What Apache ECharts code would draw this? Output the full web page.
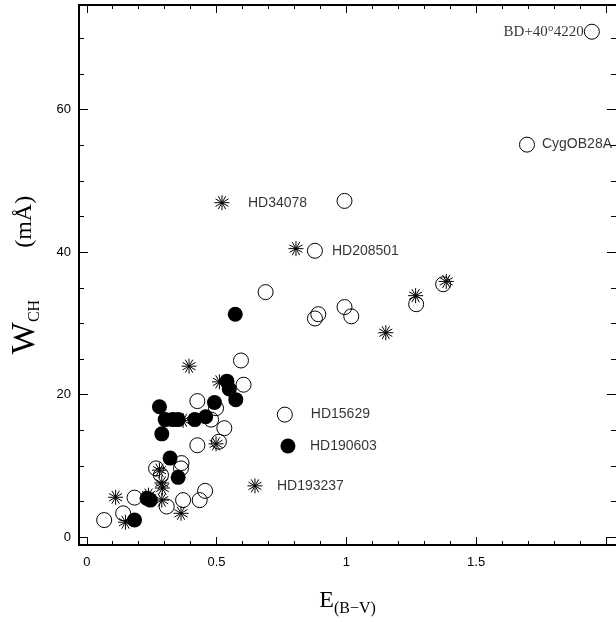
<!DOCTYPE html>
<html>
<head>
<meta charset="utf-8">
<script src="https://cdn.jsdelivr.net/npm/echarts@6/dist/echarts.min.js"></script>
<style>html,body{margin:0;padding:0;background:#fff;}#c{width:616px;height:622px;}</style>
</head>
<body>
<div id="c"></div>
<script>
// ---- data ----
// open circles
const openX = [1.946, 1.696, 0.993, 0.879, 0.689, 0.879, 0.892, 0.993, 1.019, 1.269, 1.373, 0.763,
  0.594, 0.604, 0.426, 0.498, 0.479, 0.530, 0.426, 0.509, 0.365, 0.363, 0.267, 0.286,
  0.184, 0.308, 0.371, 0.435, 0.456, 0.067, 0.140];
const openY = [70.95, 55.1, 47.2, 40.2, 34.4, 30.7, 31.3, 32.3, 31.0, 32.7, 35.5, 17.2,
  24.8, 21.4, 19.1, 18.1, 16.5, 15.3, 12.9, 13.4, 10.4, 9.65, 9.65, 8.7,
  5.55, 4.3, 5.2, 5.2, 6.5, 2.4, 3.35];
// filled circles
const filledX = [0.775, 0.572, 0.540, 0.549, 0.574, 0.280, 0.492, 0.302, 0.331, 0.352, 0.416, 0.458,
  0.289, 0.321, 0.352, 0.232, 0.245, 0.184];
const filledY = [12.8, 31.3, 21.9, 20.8, 19.3, 18.3, 18.9, 16.5, 16.5, 16.5, 16.5, 16.9,
  14.5, 11.1, 8.4, 5.45, 5.2, 2.4];
// asterisks
const starX = [0.521, 0.806, 1.267, 1.152, 1.385, 0.648, 0.394, 0.511, 0.371, 0.498, 0.280,
  0.289, 0.291, 0.238, 0.289, 0.111, 0.363, 0.149];
const starY = [46.95, 40.5, 33.9, 28.7, 35.9, 7.2, 24.0, 21.8, 16.4, 13.1, 9.4,
  7.6, 6.9, 5.9, 5.2, 5.6, 3.35, 2.1];
// labelled stars
const labelNames = ['BD+40°4220', 'CygOB28A', 'HD34078', 'HD208501', 'HD15629', 'HD190603', 'HD193237'];
const labelX = [1.946, 1.696, 0.521, 0.879, 0.763, 0.775, 0.648];
const labelY = [70.95, 55.1, 46.95, 40.2, 17.2, 12.8, 7.2];
// axis ticks
const xMajorTicks = [0, 0.5, 1, 1.5, 2];
const xTickLabels = [0, 0.5, 1, 1.5];
const yMajorTicks = [0, 20, 40, 60];
const yTickLabels = [0, 20, 40, 60];

// ---- styling / layout ----
const xMinorTicks = []; for (let i = 0; i <= 20; i++) xMinorTicks.push(+(i * 0.1).toFixed(2));
const yMinorTicks = []; for (let i = 0; i <= 14; i++) yMinorTicks.push(i * 5);
const XMIN = -0.03, XMAX = 2.039, YMIN = -1.1, YMAX = 74.7;

function zip(a, b) { return a.map((v, i) => [v, b[i]]); }

let ast = '';
for (let k = 0; k < 6; k++) {
  const t = k * Math.PI / 6, c = Math.cos(t) * 10, s = Math.sin(t) * 10;
  ast += 'M' + c.toFixed(3) + ' ' + s.toFixed(3) + 'L' + (-c).toFixed(3) + ' ' + (-s).toFixed(3);
}

const labelStyle = {
  'BD+40°4220': { position: 'left', distance: 8, fontFamily: 'Liberation Serif', fontSize: 15 },
  'CygOB28A': { position: 'right', distance: 15 },
  'HD34078': { position: 'right', distance: 26 },
  'HD208501': { position: 'right', distance: 17 },
  'HD15629': { position: 'right', distance: 26 },
  'HD190603': { position: 'right', distance: 22 },
  'HD193237': { position: 'right', distance: 22 }
};

const axisLineStyle = { color: '#000', width: 2 };
function xAx(pos, ticks, len, withLabels) {
  const a = {
    type: 'value', position: pos, min: XMIN, max: XMAX, gridIndex: 0,
    axisLine: { show: true, lineStyle: axisLineStyle, onZero: false },
    axisTick: { show: true, inside: true, length: len, customValues: ticks, lineStyle: { color: '#000', width: 1 } },
    axisLabel: withLabels ? { show: true, customValues: xTickLabels, color: '#000', fontSize: 13,
      fontFamily: 'Liberation Sans', margin: 11, formatter: v => String(v) } : { show: false },
    splitLine: { show: false }
  };
  if (withLabels) {
    a.name = '{a|E}{b|(B\u2212V)}';
    a.nameLocation = 'middle';
    a.nameGap = 40;
    a.nameTextStyle = { color: '#000', rich: {
      a: { fontFamily: 'Liberation Serif', fontSize: 24, color: '#000' },
      b: { fontFamily: 'Liberation Serif', fontSize: 16, color: '#000', padding: [16, 0, 0, 0] }
    } };
  }
  return a;
}
function yAx(pos, ticks, len, withLabels) {
  const a = {
    type: 'value', position: pos, min: YMIN, max: YMAX, gridIndex: 0,
    axisLine: { show: pos === 'left', lineStyle: axisLineStyle, onZero: false },
    axisTick: { show: true, inside: true, length: len, customValues: ticks, lineStyle: { color: '#000', width: 1 } },
    axisLabel: withLabels ? { show: true, customValues: yTickLabels, color: '#000', fontSize: 13,
      fontFamily: 'Liberation Sans', margin: 8, formatter: v => String(v) } : { show: false },
    splitLine: { show: false }
  };
  if (withLabels) {
    a.name = '{a|W}{b|CH}{c|(m\u00C5)}';
    a.nameLocation = 'middle';
    a.nameGap = 36;
    a.nameRotate = 90;
    a.nameTextStyle = { color: '#000', rich: {
      a: { fontFamily: 'Liberation Serif', fontSize: 34, color: '#000' },
      b: { fontFamily: 'Liberation Serif', fontSize: 16, color: '#000', padding: [20, 0, 0, 0] },
      c: { fontFamily: 'Liberation Serif', fontSize: 24, color: '#000', padding: [0, 0, 0, 52] }
    } };
  }
  return a;
}

const option = {
  animation: false,
  backgroundColor: '#fff',
  grid: { left: 75, right: -2, top: 5, bottom: 75, containLabel: false },
  xAxis: [
    xAx('bottom', xMajorTicks, 8, true),
    xAx('bottom', xMinorTicks, 4, false),
    xAx('top', xMajorTicks, 8, false),
    xAx('top', xMinorTicks, 4, false)
  ],
  yAxis: [
    yAx('left', yMajorTicks, 9, true),
    yAx('left', yMinorTicks, 5, false),
    yAx('right', yMajorTicks, 9, false),
    yAx('right', yMinorTicks, 5, false)
  ],
  series: [
    { type: 'scatter', data: zip(filledX, filledY), symbol: 'circle', symbolSize: 15,
      itemStyle: { color: '#000', borderColor: '#000', borderWidth: 0, opacity: 1 } },
    { type: 'scatter', data: zip(openX, openY), symbol: 'circle', symbolSize: 15,
      itemStyle: { color: 'rgba(0,0,0,0)', borderColor: '#000', borderWidth: 1, opacity: 1 } },
    { type: 'scatter', data: zip(starX, starY), symbol: 'path://' + ast, symbolSize: 15,
      itemStyle: { color: '#000', borderColor: '#000', borderWidth: 1, opacity: 1 } },
    { type: 'scatter', silent: true, symbolSize: 0,
      data: labelNames.map((n, i) => ({ name: n, value: [labelX[i], labelY[i]],
        label: Object.assign({ show: true, formatter: '{b}', color: '#000', fontSize: 14,
          fontFamily: 'Liberation Sans' }, labelStyle[n]) })) }
  ]
};
const chart = echarts.init(document.getElementById('c'), null, { renderer: 'canvas' });
chart.setOption(option);
</script>
</body>
</html>
